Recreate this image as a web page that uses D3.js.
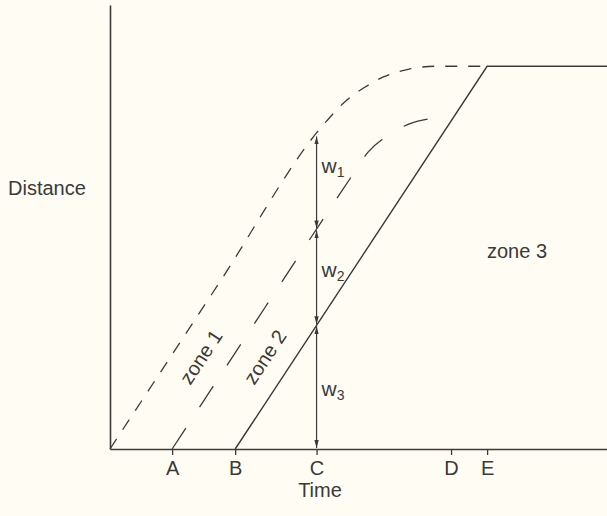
<!DOCTYPE html>
<html>
<head>
<meta charset="utf-8">
<script src="https://cdn.jsdelivr.net/npm/d3@7"></script>
<style>
  body { margin: 0; background: #fffdf3; }
  svg { display: block; }
  text { font-family: "Liberation Sans", Arial, sans-serif; fill: #3a3a3a; }
</style>
</head>
<body>
<svg width="607" height="516"></svg>
<script>
// tick labels on the time axis and where they sit (time units)
const tickNames = ['A', 'B', 'C', 'D', 'E'];
const tickTimes = [2, 4.03, 6.65, 10.98, 12.14];

// zone 1 front (short dashes), zone 2 front (long dashes), zone 3 front (solid)
const zone1Line = [[0, 0], [3.5, 4.32], [6.9, 8.5], [7.6, 9.1], [8.2, 9.45], [8.8, 9.72], [9.6, 9.92], [10.5, 10], [12.14, 10]];
const zone2Line = [[2, 0], [5, 3.71], [7.8, 7.15], [8.3, 7.75], [8.9, 8.17], [9.66, 8.5], [10.4, 8.64]];
const zone3Line = [[4.03, 0], [12.14, 10], [16, 10]];

const widthNames = ['1', '2', '3'];

const svg = d3.select('svg');
const width = +svg.attr('width');
const height = +svg.attr('height');

const x = d3.scaleLinear().domain([0, 16]).range([110, 607]);
const y = d3.scaleLinear().domain([0, 11.6]).range([449, 5]);

const ink = '#3a3a3a';
const fs = '20px';

// arrow head
svg.append('defs').append('marker')
    .attr('id', 'head')
    .attr('viewBox', '0 -3 8 6')
    .attr('refX', 8)
    .attr('refY', 0)
    .attr('markerUnits', 'userSpaceOnUse')
    .attr('markerWidth', 8)
    .attr('markerHeight', 6)
    .attr('orient', 'auto-start-reverse')
  .append('path')
    .attr('d', 'M0,-2.2L8,0L0,2.2Z')
    .attr('fill', ink);

// axes
const xAxisG = svg.append('g')
    .attr('transform', 'translate(0,' + y(0) + ')')
    .call(d3.axisBottom(x)
        .tickValues(tickTimes)
        .tickFormat((d, i) => tickNames[i])
        .tickSize(6)
        .tickSizeOuter(0)
        .tickPadding(6));
xAxisG.select('.domain').attr('stroke', ink).attr('stroke-width', 1.6);
xAxisG.selectAll('.tick line').attr('stroke', ink).attr('stroke-width', 1.3);
xAxisG.selectAll('.tick text')
    .style('font-family', '"Liberation Sans", Arial, sans-serif')
    .style('font-size', fs)
    .attr('fill', ink);

const yAxisG = svg.append('g')
    .attr('transform', 'translate(' + x(0) + ',0)')
    .call(d3.axisLeft(y).tickValues([]).tickSizeOuter(0));
yAxisG.select('.domain').attr('stroke', ink).attr('stroke-width', 1.6);

// fronts
const line = d3.line()
    .x(d => x(d[0]))
    .y(d => y(d[1]))
    .curve(d3.curveMonotoneX);

svg.append('path')
    .datum(zone1Line)
    .attr('d', line)
    .attr('fill', 'none')
    .attr('stroke', ink)
    .attr('stroke-width', 1.3)
    .attr('stroke-dasharray', '12,11');

svg.append('path')
    .datum(zone2Line)
    .attr('d', line)
    .attr('fill', 'none')
    .attr('stroke', ink)
    .attr('stroke-width', 1.3)
    .attr('stroke-dasharray', '25,25');

svg.append('path')
    .datum(zone3Line)
    .attr('d', d3.line().x(d => x(d[0])).y(d => y(d[1])))
    .attr('fill', 'none')
    .attr('stroke', ink)
    .attr('stroke-width', 1.4);

// widths at time C
const at = (pts, t) => d3.scaleLinear().domain(pts.map(d => d[0])).range(pts.map(d => d[1]))(t);
const tC = tickTimes[2];
const levels = [0, at(zone3Line, tC), at(zone2Line, tC), at(zone1Line, tC)];
const segs = [
  { name: widthNames[0], lo: levels[2], hi: levels[3], dy: -9 },
  { name: widthNames[1], lo: levels[1], hi: levels[2], dy: 0 },
  { name: widthNames[2], lo: levels[0], hi: levels[1], dy: 9 }
];

svg.selectAll('line.w')
  .data(segs)
  .enter()
  .append('line')
    .attr('class', 'w')
    .attr('x1', x(tC))
    .attr('x2', x(tC))
    .attr('y1', d => y(d.lo) - 1)
    .attr('y2', d => y(d.hi) + 1)
    .attr('stroke', ink)
    .attr('stroke-width', 1.2)
    .attr('marker-start', 'url(#head)')
    .attr('marker-end', 'url(#head)');

const wText = svg.selectAll('text.w')
  .data(segs)
  .enter()
  .append('text')
    .attr('class', 'w')
    .attr('x', x(tC) + 5)
    .attr('y', d => (y(d.lo) + y(d.hi)) / 2 + d.dy)
    .style('font-size', '21px');
wText.append('tspan').text('w');
wText.append('tspan')
    .attr('dy', 4)
    .style('font-size', '14px')
    .text(d => d.name);

// zone labels
const angle = -Math.atan((y(0) - y(10)) / (x(12.14) - x(4.03))) * 180 / Math.PI;

svg.append('text')
    .attr('transform', 'translate(201,357) rotate(' + angle + ')')
    .attr('text-anchor', 'middle')
    .attr('dominant-baseline', 'central')
    .style('font-size', fs)
    .text('zone 1');

svg.append('text')
    .attr('transform', 'translate(265,357) rotate(' + angle + ')')
    .attr('text-anchor', 'middle')
    .attr('dominant-baseline', 'central')
    .style('font-size', fs)
    .text('zone 2');

svg.append('text')
    .attr('x', 487)
    .attr('y', 258)
    .style('font-size', fs)
    .text('zone 3');

// axis labels
svg.append('text')
    .attr('x', 8)
    .attr('y', 195)
    .style('font-size', fs)
    .text('Distance');

svg.append('text')
    .attr('x', 320)
    .attr('y', 497)
    .attr('text-anchor', 'middle')
    .style('font-size', fs)
    .text('Time');
</script>
</body>
</html>
